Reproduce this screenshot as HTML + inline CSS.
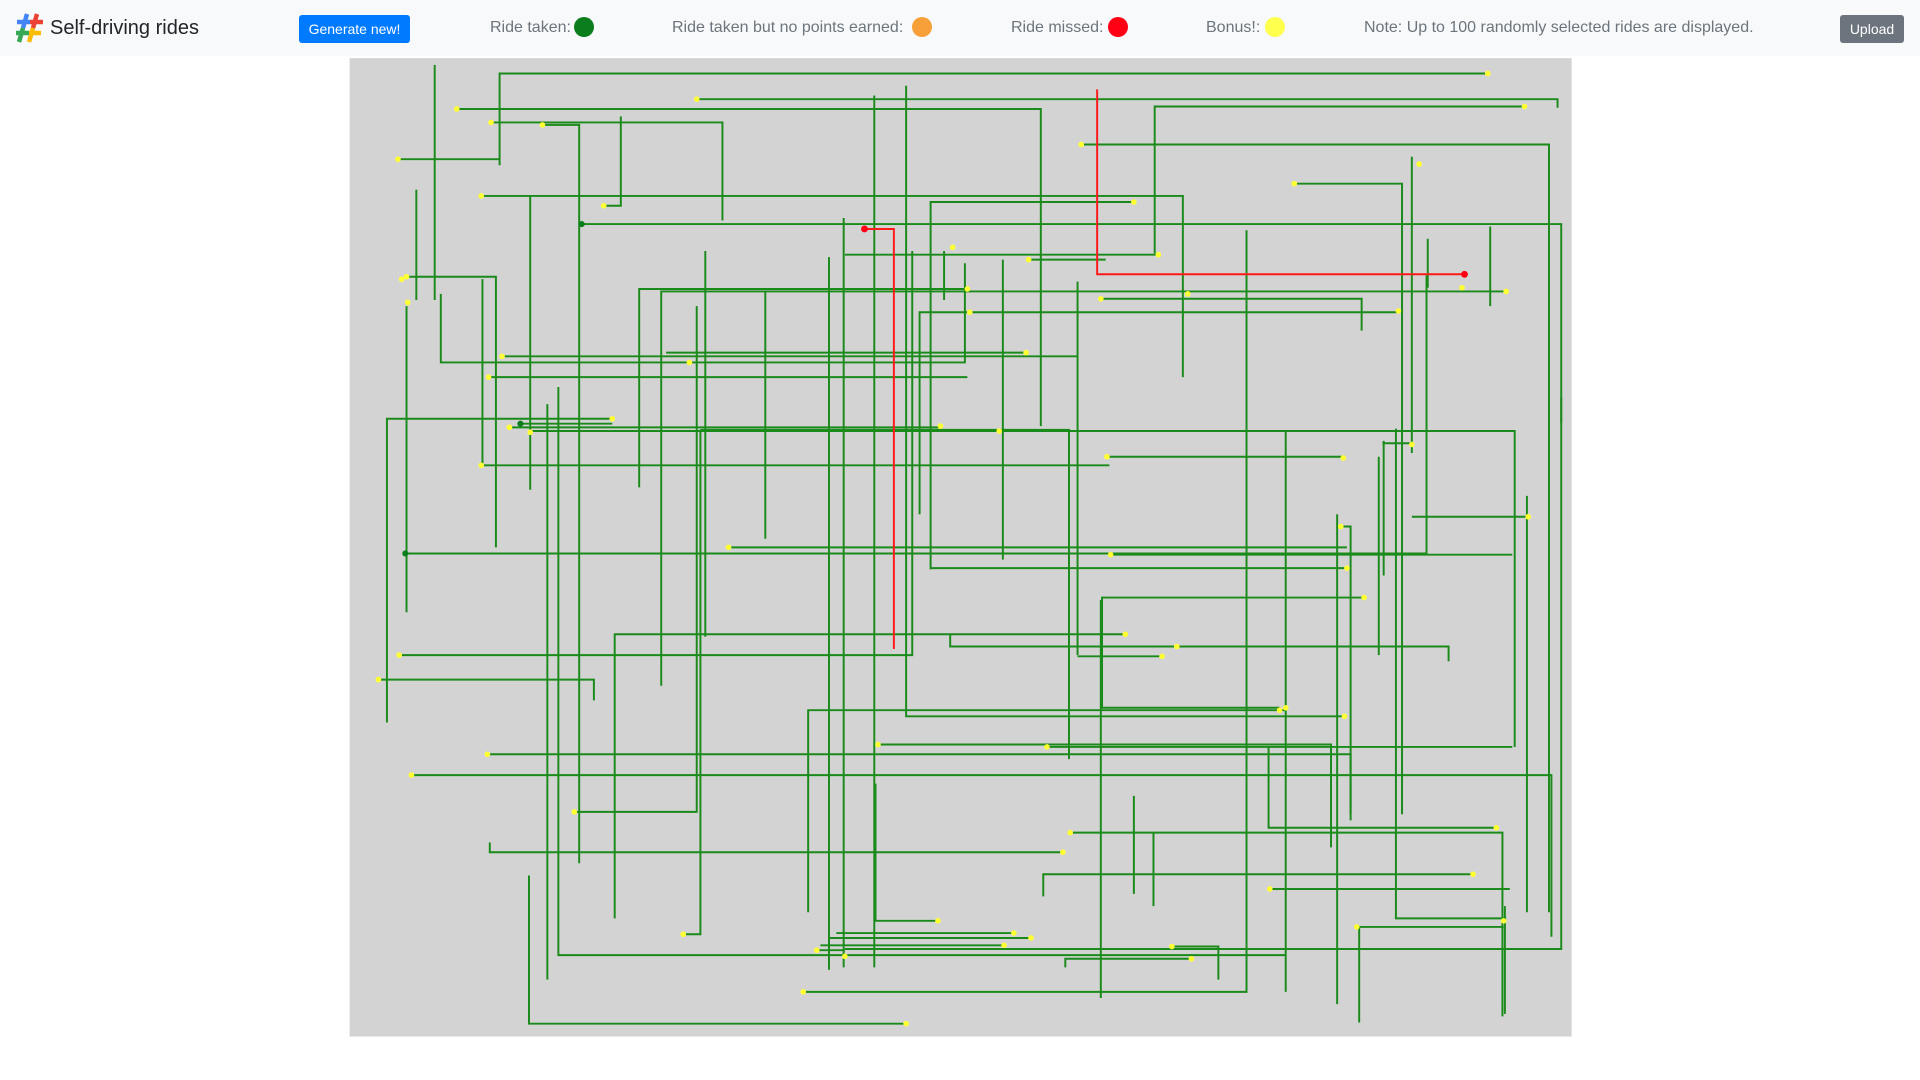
<!DOCTYPE html>
<html><head><meta charset="utf-8">
<style>
html,body{margin:0;padding:0;width:1920px;height:1080px;overflow:hidden;background:#fff;font-family:"Liberation Sans",Arial,sans-serif}
.hdr{position:absolute;left:0;top:0;width:1920px;height:56px;background:#f8f9fa}
.t{position:absolute;top:18px;font-size:16px;color:#6c757d;white-space:nowrap;line-height:20px}
.dot{position:absolute;top:17px;width:20px;height:20px;border-radius:50%}
.btn{position:absolute;top:15px;height:28px;border-radius:3px;color:#fff;font-size:14px;line-height:28px;text-align:center}
</style></head><body>
<div class="hdr"></div>
<svg style="position:absolute;left:14px;top:12px" width="32" height="32" viewBox="0 0 32 32">
<g stroke-width="4.5" stroke-linecap="butt">
<line x1="13" y1="2" x2="9" y2="16" stroke="#4285f4"/>
<line x1="23" y1="2" x2="19" y2="16" stroke="#ea4335"/>
<line x1="9" y1="16" x2="5" y2="30" stroke="#34a853"/>
<line x1="19" y1="16" x2="15" y2="30" stroke="#fbbc05"/>
<line x1="3" y1="10" x2="16" y2="10" stroke="#4285f4"/>
<line x1="16" y1="10" x2="29" y2="10" stroke="#ea4335"/>
<line x1="2" y1="21" x2="15" y2="21" stroke="#34a853"/>
<line x1="15" y1="21" x2="27" y2="21" stroke="#fbbc05"/>
</g></svg>
<div style="position:absolute;left:50px;top:16px;font-size:20px;color:#212529;line-height:24px">Self-driving rides</div>
<div class="btn" style="left:299px;width:111px;background:#007bff">Generate new!</div>
<div class="t" style="left:490px">Ride taken:</div><div class="dot" style="left:574px;background:#0a7d1d"></div>
<div class="t" style="left:672px">Ride taken but no points earned:</div><div class="dot" style="left:912px;background:#f7a03a"></div>
<div class="t" style="left:1011px">Ride missed:</div><div class="dot" style="left:1108px;background:#ff0015"></div>
<div class="t" style="left:1206px">Bonus!:</div><div class="dot" style="left:1265px;background:#ffff4d"></div>
<div class="t" style="left:1364px">Note: Up to 100 randomly selected rides are displayed.</div>
<div class="btn" style="left:1840px;width:64px;background:#6c757d">Upload</div>
<svg style="position:absolute;left:0;top:0" width="1920" height="1080" viewBox="0 0 1568 882">
<rect x="285.5" y="47.5" width="998" height="799" fill="#d3d3d3"/>
<g fill="none" stroke="#1a8a1a" stroke-width="1.6">
<path d="M1215 60H408V135"/><path d="M569 81H1272V88"/><path d="M355 53V245"/>
<path d="M373 89H850V348"/><path d="M401 100H590V180"/><path d="M443 102H473V705"/>
<path d="M507 95V168H493"/><path d="M325 130H408"/><path d="M340 155V245"/>
<path d="M393 160H966V308"/><path d="M714 78V790"/><path d="M740 70V585H1098"/>
<path d="M1245 87H943V207"/><path d="M883 118H1265V745"/><path d="M1057 150H1145V665"/>
<path d="M1153 128V370"/><path d="M475 183H1275V775H690"/><path d="M926 165H760V465"/>
<path d="M946 208H690"/><path d="M689 178V790"/><path d="M840 212H903"/>
<path d="M332 226H405V447"/><path d="M1230 238H540V560"/><path d="M790 236H522V398"/>
<path d="M899 244H1112V270"/><path d="M1018 188V810H656"/><path d="M360 240V296H788V215"/>
<path d="M1142 255H751V420"/><path d="M838 288H544"/><path d="M410 291H880"/><path d="M880 230V535"/>
<path d="M399 308H790"/><path d="M576 205V520"/><path d="M569 250V663H469"/><path d="M625 238V440"/>
<path d="M456 316V780H1050"/><path d="M500 342H316V590"/><path d="M425 346H500"/>
<path d="M416 349H768"/><path d="M433 352H1050V810"/><path d="M572 351H873V620"/><path d="M572 351V763H558"/>
<path d="M816 352H1237V610"/><path d="M1097 373H904"/><path d="M1126 373V535"/><path d="M393 380H906"/>
<path d="M1129 362H1153"/><path d="M1140 350V750H1230"/><path d="M1153 422H1248"/>
<path d="M331 452H1165V225"/><path d="M595 447H1100"/><path d="M907 453H1235"/><path d="M760 464H1102"/>
<path d="M1095 430H1103V670"/><path d="M1114 488H900V578H1045"/><path d="M919 518H502V750"/>
<path d="M961 528H776V518"/><path d="M961 528H1183V540"/><path d="M326 535H745V205"/><path d="M880 536H950"/>
<path d="M309 555H485V572"/><path d="M1050 580H660V745"/><path d="M717 608H1087V692"/>
<path d="M855 610H1235"/><path d="M398 616H1103V665"/><path d="M336 633H1267V765"/>
<path d="M1222 676H1036V610"/><path d="M874 680H1227V830"/><path d="M868 696H400V688"/>
<path d="M715 640V752H766"/><path d="M1203 714H852V732"/><path d="M1037 726H1233"/>
<path d="M926 650V730"/><path d="M942 680V740"/><path d="M1108 757H1228"/><path d="M1110 757V835"/>
<path d="M683 762H828"/><path d="M677 766H842"/><path d="M677 766V792"/><path d="M670 772H820"/><path d="M667 776H690"/>
<path d="M957 773H995V800"/><path d="M973 783H870V790"/><path d="M740 836H432V715"/>
<path d="M447 330V800"/><path d="M899 490V815"/><path d="M1092 420V820"/><path d="M1229 740V828"/>
<path d="M332 250V500"/><path d="M819 212V457"/><path d="M677 210V775"/><path d="M771 205V245"/>
<path d="M1217 185V250"/><path d="M1247 405V745"/><path d="M1130 360V470"/><path d="M433 160V400"/>
<path d="M1275 325V345"/><path d="M394 228V380"/><path d="M1166 195V235"/>
</g>
<g fill="none" stroke="#ff1a1a" stroke-width="1.6">
<path d="M896 73V224H1196"/><path d="M706 187H730V530"/>
</g>
<g fill="#0a7d1d"><circle cx="475" cy="183" r="2.5"/><circle cx="425" cy="346" r="2.5"/><circle cx="331" cy="452" r="2.5"/></g>
<g fill="#ff0015"><circle cx="1196" cy="224" r="2.8"/><circle cx="706" cy="187" r="2.8"/></g>
<g fill="#ffff33">
<circle cx="1215" cy="60" r="2.3"/><circle cx="569" cy="81" r="2.3"/><circle cx="373" cy="89" r="2.3"/><circle cx="401" cy="100" r="2.3"/>
<circle cx="443" cy="102" r="2.3"/><circle cx="493" cy="168" r="2.3"/><circle cx="325" cy="130" r="2.3"/><circle cx="393" cy="160" r="2.3"/>
<circle cx="1245" cy="87" r="2.3"/><circle cx="883" cy="118" r="2.3"/><circle cx="1057" cy="150" r="2.3"/><circle cx="1159" cy="134" r="2.3"/>
<circle cx="926" cy="165" r="2.3"/><circle cx="946" cy="208" r="2.3"/><circle cx="840" cy="212" r="2.3"/><circle cx="778" cy="202" r="2.3"/>
<circle cx="332" cy="226" r="2.3"/><circle cx="328" cy="228" r="2.3"/><circle cx="1230" cy="238" r="2.3"/><circle cx="1194" cy="235" r="2.3"/>
<circle cx="790" cy="236" r="2.3"/><circle cx="899" cy="244" r="2.3"/><circle cx="970" cy="240" r="2.3"/><circle cx="333" cy="247" r="2.3"/>
<circle cx="792" cy="255" r="2.3"/><circle cx="1142" cy="254" r="2.3"/><circle cx="838" cy="288" r="2.3"/><circle cx="410" cy="291" r="2.3"/>
<circle cx="563" cy="296" r="2.3"/><circle cx="399" cy="308" r="2.3"/><circle cx="500" cy="342" r="2.3"/><circle cx="416" cy="349" r="2.3"/>
<circle cx="768" cy="348" r="2.3"/><circle cx="433" cy="353" r="2.3"/><circle cx="816" cy="352" r="2.3"/><circle cx="1097" cy="374" r="2.3"/>
<circle cx="904" cy="373" r="2.3"/><circle cx="393" cy="380" r="2.3"/><circle cx="1153" cy="363" r="2.3"/><circle cx="1248" cy="422" r="2.3"/>
<circle cx="595" cy="447" r="2.3"/><circle cx="907" cy="453" r="2.3"/><circle cx="1100" cy="464" r="2.3"/><circle cx="1095" cy="430" r="2.3"/>
<circle cx="1114" cy="488" r="2.3"/><circle cx="919" cy="518" r="2.3"/><circle cx="961" cy="528" r="2.3"/><circle cx="326" cy="535" r="2.3"/>
<circle cx="949" cy="536" r="2.3"/><circle cx="309" cy="555" r="2.3"/><circle cx="1050" cy="578" r="2.3"/><circle cx="1045" cy="580" r="2.3"/>
<circle cx="1098" cy="585" r="2.3"/><circle cx="717" cy="608" r="2.3"/><circle cx="855" cy="610" r="2.3"/><circle cx="398" cy="616" r="2.3"/>
<circle cx="336" cy="633" r="2.3"/><circle cx="469" cy="663" r="2.3"/><circle cx="1222" cy="676" r="2.3"/><circle cx="874" cy="680" r="2.3"/>
<circle cx="868" cy="696" r="2.3"/><circle cx="1203" cy="714" r="2.3"/><circle cx="1037" cy="726" r="2.3"/><circle cx="766" cy="752" r="2.3"/>
<circle cx="1228" cy="752" r="2.3"/><circle cx="1108" cy="757" r="2.3"/><circle cx="828" cy="762" r="2.3"/><circle cx="558" cy="763" r="2.3"/>
<circle cx="842" cy="766" r="2.3"/><circle cx="820" cy="772" r="2.3"/><circle cx="667" cy="776" r="2.3"/><circle cx="690" cy="781" r="2.3"/>
<circle cx="957" cy="773" r="2.3"/><circle cx="973" cy="783" r="2.3"/><circle cx="656" cy="810" r="2.3"/><circle cx="740" cy="836" r="2.3"/>
</g>
</svg>
</body></html>
